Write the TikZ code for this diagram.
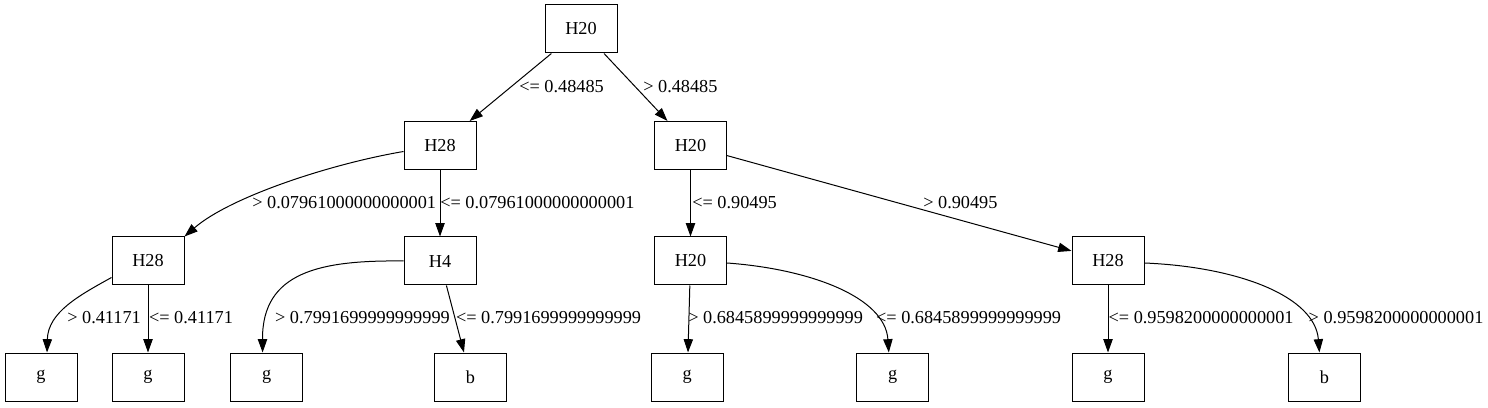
\documentclass[tikz,border=0pt]{standalone}
\usepackage{fontspec}
\setmainfont{Liberation Serif}
\usetikzlibrary{arrows.meta,calc}
\begin{document}
\begin{tikzpicture}[x=0.75pt,y=0.75pt,
  box/.style={draw,line width=0.75pt,minimum width=54pt,minimum height=36pt,inner sep=0pt,font=\fontsize{13.7}{16}\selectfont},
  lab/.style={anchor=west,inner sep=0pt,font=\fontsize{13.7}{16}\selectfont},
  edge/.style={line width=0.75pt,-{Triangle[length=10pt,width=7pt]}}]
\useasboundingbox (0,0) rectangle (1488,407);
\fill[white] (0,0) rectangle (1488,407);
% nodes
\node[box] (root) at (581,378) {H20};
\node[box] (h28a) at (440,261.5) {H28};
\node[box] (h20a) at (690.5,261.5) {H20};
\node[box] (h28b) at (148,146) {H28};
\node[box] (h4)   at (440,146) {H4};
\node[box] (h20b) at (690.5,146) {H20};
\node[box] (h28c) at (1108,146) {H28};
\node[box] (l1) at (41,30) {g};
\node[box] (l2) at (148,30) {g};
\node[box] (l3) at (266.6,30) {g};
\node[box] (l4) at (470.4,30) {b};
\node[box] (l5) at (687.3,30) {g};
\node[box] (l6) at (892.8,30) {g};
\node[box] (l7) at (1108,30) {g};
\node[box] (l8) at (1324.4,30) {b};
% edges
\draw[edge] (root) -- (h28a);
\draw[edge] (root) -- (h20a);
\draw[edge] ($(h28a.west)+(0,-6)$) .. controls (330,243) and (230,210) .. (h28b.north east);
\draw[edge] (h28a) -- (h4);
\draw[edge] (h20a) -- (h20b);
\draw[edge] (h20a) -- (h28c);
\draw[edge] ($(h28b.south west)+(0,8)$) .. controls (80,112) and (48,95) .. ($(l1.north)+(6,0)$);
\draw[edge] (h28b) -- (l2);
\draw[edge] (h4.west) .. controls (320,147) and (262,135) .. ($(l3.north)+(-4,0)$);
\draw[edge] (h4) -- (l4);
\draw[edge] (h20b) -- (l5);
\draw[edge] ($(h20b.east)+(0,-2)$) .. controls (810,138) and (885,110) .. ($(l6.north)+(-4,0)$);
\draw[edge] (h28c) -- (l7);
\draw[edge] ($(h28c.east)+(0,-2)$) .. controls (1240,140) and (1315,110) .. ($(l8.north)+(-5,0)$);
% labels
\node[lab] (t1) at (519,320) {<= 0.48485};
\node[lab] (t2) at (643,320) {> 0.48485};
\node[lab] (t3) at (252,204) {> 0.07961000000000001};
\node[lab] (t4) at (440,204) {<= 0.07961000000000001};
\node[lab] (t5) at (692,204) {<= 0.90495};
\node[lab] (t6) at (923,204) {> 0.90495};
\node[lab] (t7) at (67,89) {> 0.41171};
\node[lab] (t8) at (148.8,89) {<= 0.41171};
\node[lab] (t9) at (274.8,89) {> 0.7991699999999999};
\node[lab] (t10) at (455.8,89) {<= 0.7991699999999999};
\node[lab] (t11) at (688,89) {> 0.6845899999999999};
\node[lab] (t12) at (875.8,89) {<= 0.6845899999999999};
\node[lab] (t13) at (1108.3,89) {<= 0.9598200000000001};
\node[lab] (t14) at (1308.4,89) {> 0.9598200000000001};
\end{tikzpicture}
\end{document}
